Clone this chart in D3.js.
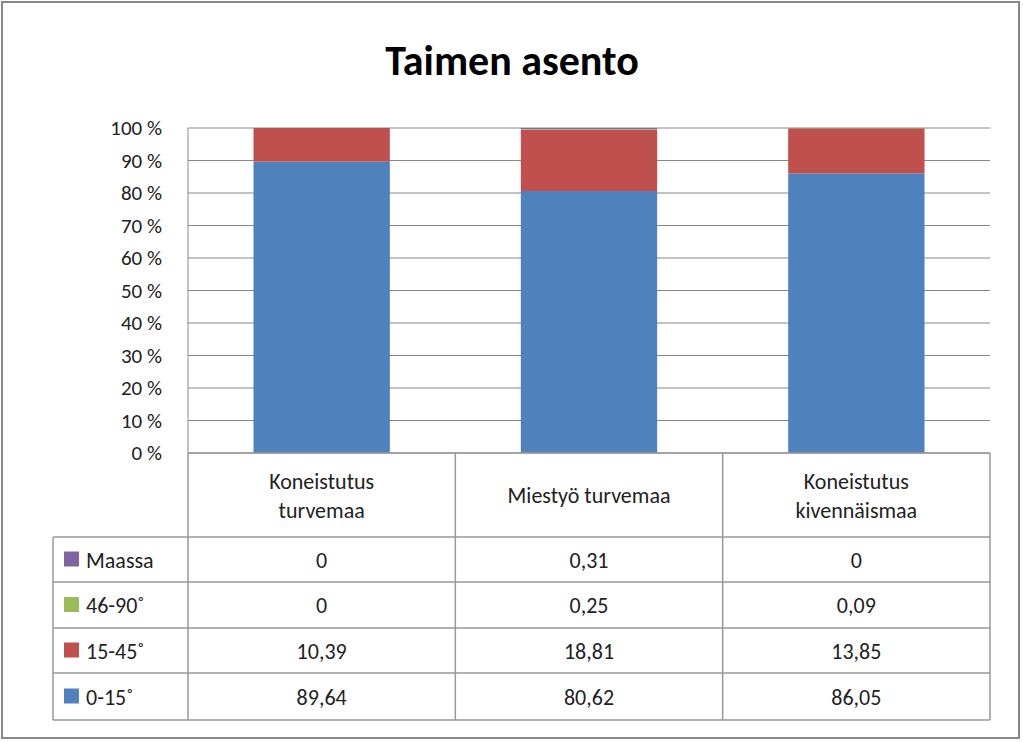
<!DOCTYPE html><html><head><meta charset="utf-8"><script src="https://cdn.jsdelivr.net/npm/d3@7"></script>
<style>body{margin:0;background:#fff}text{font-family:Calibri,Carlito,"Open Sans",sans-serif}</style></head><body><svg id="c" width="1023" height="742"></svg>
<script>
const categories=[["Koneistutus","turvemaa"],["Miestyö turvemaa"],["Koneistutus","kivennäismaa"]];
const series=["0-15˚","15-45˚","46-90˚","Maassa"];
const colors=["#4F81BD","#C0504D","#9BBB59","#8064A2"];
const v0=[89.64,80.62,86.05];
const v1=[10.39,18.81,13.85];
const v2=[0,0.25,0.09];
const v3=[0,0.31,0];
const labels=[["0","0,31","0"],["0","0,25","0,09"],["10,39","18,81","13,85"],["89,64","80,62","86,05"]];
const ticks=[0,10,20,30,40,50,60,70,80,90,100];
const svg=d3.select("#c");
svg.append("rect").attr("x",2).attr("y",2).attr("width",1017).attr("height",736).attr("fill","#fff").attr("stroke","#888").attr("stroke-width",2);
svg.append("text").attr("x",512).attr("y",75).attr("text-anchor","middle").attr("font-size",42).attr("font-weight","bold").text("Taimen asento");
const L=188,R=990,T=128,B=453;
const x=d3.scaleBand().domain([0,1,2]).range([L,R]).paddingInner(0.49).paddingOuter(0.245);
const y=d3.scaleLinear().domain([0,100]).range([B,T]);
const g=svg.append("g");
ticks.forEach(t=>{g.append("line").attr("x1",L).attr("x2",R).attr("y1",y(t)).attr("y2",y(t)).attr("stroke","#888").attr("stroke-width",1.2);
 g.append("text").attr("x",L-26).attr("y",y(t)+7).attr("text-anchor","end").attr("font-size",21).attr("fill","#222").text(t+" %");});
g.append("line").attr("x1",L).attr("x2",L).attr("y1",T).attr("y2",B).attr("stroke","#888");
const data=[0,1,2].map(i=>({i,a:v0[i],b:v1[i],c:v2[i],d:v3[i]}));
const st=d3.stack().keys(["a","b","c","d"])(data);
st.forEach((s,k)=>g.selectAll(null).data(s).enter().append("rect").attr("x",d=>x(d.data.i)).attr("width",x.bandwidth())
 .attr("y",d=>y(Math.min(100,d[1]))).attr("height",d=>Math.max(0,y(d[0])-y(Math.min(100,d[1])))).attr("fill",colors[k]));
// table
const cw=(R-L)/3, rows=[537,582,628,673,720], LL=53;
const ln=(x1,y1,x2,y2)=>svg.append("line").attr("x1",x1).attr("y1",y1).attr("x2",x2).attr("y2",y2).attr("stroke","#999").attr("stroke-width",1.5);
ln(L,B,R,B);
for(let c=0;c<=3;c++)ln(L+c*cw,B,L+c*cw,rows[4]);
ln(LL,rows[0],LL,rows[4]);
rows.forEach(r=>ln(LL,r,R,r));
categories.forEach((c,i)=>{const cx=L+cw*(i+0.5);const n=c.length;
 c.forEach((s,j)=>svg.append("text").attr("x",cx).attr("y",(B+rows[0])/2+8+(j-(n-1)/2)*29).attr("text-anchor","middle").attr("font-size",22).attr("fill","#222").text(s));});
const order=[3,2,1,0];
order.forEach((k,r)=>{const cy=(rows[r]+rows[r+1])/2;
 svg.append("rect").attr("x",64).attr("y",cy-8).attr("width",15).attr("height",15).attr("fill",colors[k]);
 svg.append("text").attr("x",86).attr("y",cy+8).attr("font-size",22).attr("fill","#222").text(series[k]);
 labels[r].forEach((t,i)=>svg.append("text").attr("x",L+cw*(i+0.5)).attr("y",cy+8).attr("text-anchor","middle").attr("font-size",22).attr("fill","#222").text(t));});
</script></body></html>
